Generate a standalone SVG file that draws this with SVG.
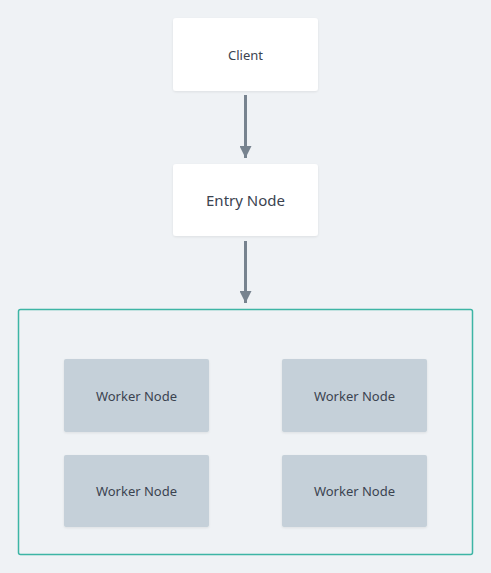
<svg xmlns="http://www.w3.org/2000/svg" width="491" height="573" viewBox="0 0 491 573">
<style>
.bg{fill:#eff2f5}
.white{fill:#ffffff}
.worker{fill:#c5d0d9}
.lbl{font-family:"Noto Sans","Liberation Sans",sans-serif;fill:#3b4350;text-anchor:middle;dominant-baseline:central}
.s13{font-size:13px}
.s15{font-size:15px}
.edge{stroke:#77838f;stroke-width:3;fill:none}
</style>
<defs>
<filter id="sh" x="-10%" y="-10%" width="120%" height="130%">
<feDropShadow dx="0" dy="1" stdDeviation="1" flood-color="#000" flood-opacity="0.08"/>
</filter>
<marker id="ah" viewBox="0 0 10 10" refX="10" refY="5" markerWidth="4" markerHeight="4" markerUnits="strokeWidth" orient="auto">
<path d="M0,0 L10,5 L0,10 z" fill="#77838f"/>
</marker>
</defs>
<rect class="bg" x="0" y="0" width="491" height="573"/>
<g id="connectors">
<line class="edge" x1="245.5" y1="95" x2="245.5" y2="158" marker-end="url(#ah)"/>
<line class="edge" x1="245.5" y1="241" x2="245.5" y2="303" marker-end="url(#ah)"/>
</g>
<g id="client">
<rect class="white" x="173" y="18" width="145" height="73" rx="3" filter="url(#sh)"/>
<text class="lbl s13" x="245.5" y="54.5">Client</text>
</g>
<g id="entry">
<rect class="white" x="173" y="164" width="145" height="72" rx="3" filter="url(#sh)"/>
<text class="lbl s15" x="245.5" y="200">Entry Node</text>
</g>
<g id="cluster">
<rect x="18.5" y="309.5" width="454" height="245" rx="2" fill="none" stroke="#3db5a5" stroke-width="1.5"/>
</g>
<g id="worker1">
<rect class="worker" x="64" y="359" width="145" height="73" rx="2" filter="url(#sh)"/>
<text class="lbl s13" x="136.5" y="395.5">Worker Node</text>
</g>
<g id="worker2">
<rect class="worker" x="282" y="359" width="145" height="73" rx="2" filter="url(#sh)"/>
<text class="lbl s13" x="354.5" y="395.5">Worker Node</text>
</g>
<g id="worker3">
<rect class="worker" x="64" y="455" width="145" height="72" rx="2" filter="url(#sh)"/>
<text class="lbl s13" x="136.5" y="491">Worker Node</text>
</g>
<g id="worker4">
<rect class="worker" x="282" y="455" width="145" height="72" rx="2" filter="url(#sh)"/>
<text class="lbl s13" x="354.5" y="491">Worker Node</text>
</g>
</svg>
